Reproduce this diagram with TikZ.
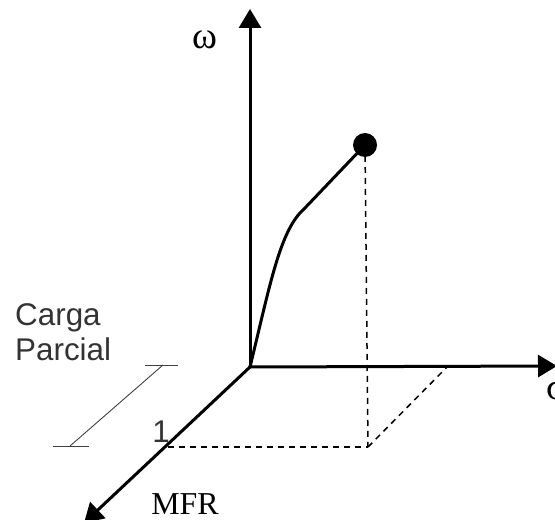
\documentclass[tikz,border=0pt]{standalone}
\usepackage{fontspec}
\setmainfont{Liberation Serif}
\newfontfamily\labelsans{Liberation Sans}
\usetikzlibrary{arrows.meta}
\begin{document}
\begin{tikzpicture}[x=1bp,y=-1bp,
  axis/.style={line width=3bp,-{Triangle[length=19bp,width=22bp]}},
  guide/.style={line width=1.5bp,dash pattern=on 6bp off 5bp},
  leader/.style={line width=0.9bp,black!75},
  serif/.style={font=\fontsize{32}{36}\selectfont,inner sep=0pt},
  sanslabel/.style={font=\labelsans\fontsize{31.5}{35}\selectfont,text=black!80,inner sep=0pt}]
\useasboundingbox (0,0) rectangle (555,520);
\coordinate (O) at (250,367);
\coordinate (ytip) at (250,9);
\coordinate (xtip) at (557,366);
\coordinate (ztip) at (84,523);
\coordinate (one) at (168,447);
\coordinate (foot) at (368,447);
\coordinate (xmark) at (447,367);
\node[circle,fill=black,minimum size=24bp,inner sep=0pt] (pt) at (365,145) {};
% dashed guides
\draw[guide] (pt.center) -- (foot);
\draw[guide] (one) -- (foot);
\draw[guide] (foot) -- (xmark);
% axes
\draw[axis] (O) -- (ytip);
\draw[axis] ([xshift=-1.5bp]O) -- (xtip);
\draw[axis] (O) -- (ztip);
% curve
\draw[line width=3bp,line cap=round] (O) .. controls (270,285) and (280,230) .. (304,209) -- (pt.center);
% leader for Carga Parcial
\coordinate (la) at (53,446);
\coordinate (lb) at (89,446);
\coordinate (lc) at (145,365);
\coordinate (ld) at (178,365);
\coordinate (le) at (70,446);
\coordinate (lf) at (163,365);
\draw[leader] (la) -- (lb);
\draw[leader] (lc) -- (ld);
\draw[leader] (le) -- (lf);
% labels
\node[serif,font=\fontsize{38}{40}\selectfont] (w) at (205,40) {ω};
\node[serif,anchor=base] (mfr) at (185,514) {MFR};
\node[serif,anchor=west,font=\fontsize{38}{40}\selectfont] (sig) at (546,390) {σ};
\node[sanslabel,anchor=base] (lone) at (161,442) {1};
\node[sanslabel,anchor=base west,align=left] (carga) at (15,360) {Carga\\Parcial};
\end{tikzpicture}
\end{document}
